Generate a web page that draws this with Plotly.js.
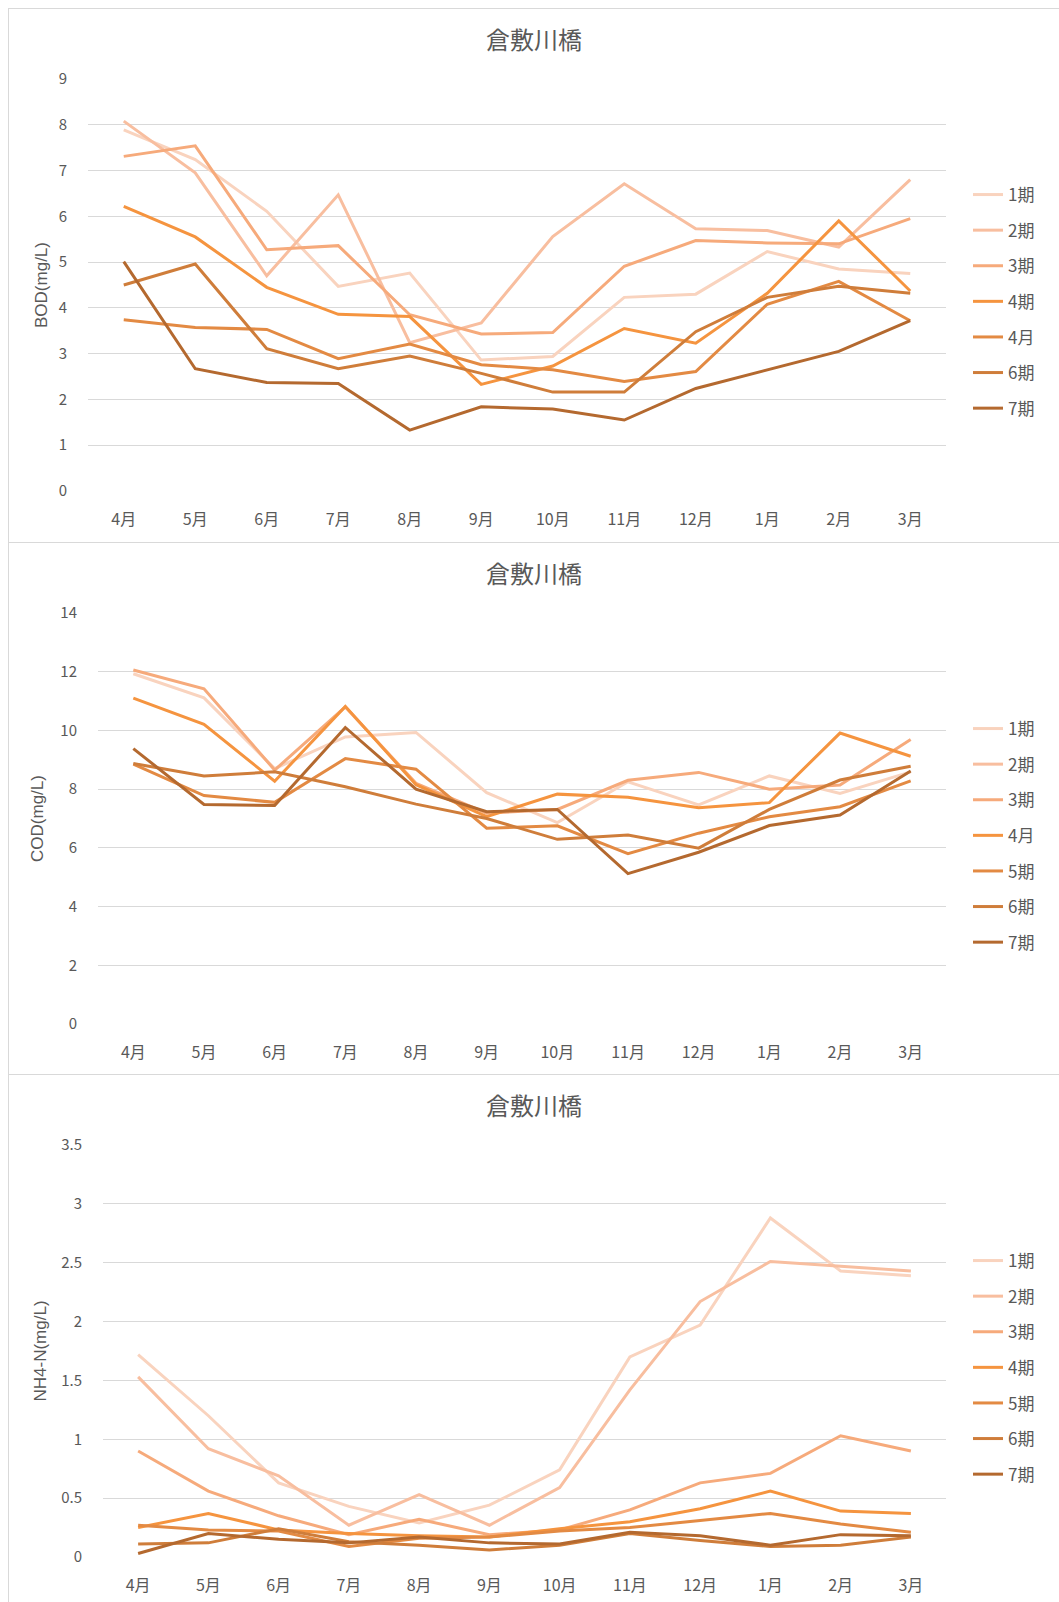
<!DOCTYPE html>
<html><head><meta charset="utf-8">
<script src="https://cdn.plot.ly/plotly-3.0.1.min.js"></script>
<style>
body{margin:0;background:#fff;width:1059px;height:1602px;position:relative;overflow:hidden}
.frame{position:absolute;left:8px;width:1051px;border-top:1px solid #d9d9d9;border-left:1px solid #d9d9d9;box-sizing:border-box}
.plot{position:absolute;left:9px;width:1050px}
</style></head><body>
<div class="frame" style="top:8px;height:534px"></div>
<div class="frame" style="top:542px;height:532px"></div>
<div class="frame" style="top:1074px;height:528px"></div>
<div id="c1" class="plot" style="top:9px;height:533px"></div>
<div id="c2" class="plot" style="top:543px;height:531px"></div>
<div id="c3" class="plot" style="top:1075px;height:527px"></div>
<script>
// ---- data ----
const months = ['4月','5月','6月','7月','8月','9月','10月','11月','12月','1月','2月','3月'];
const chartTitle = '倉敷川橋';
const seriesColors = ['#F9D3BE','#F8BE9F','#F6AA7B','#F5943F','#E38A43','#CF7D3A','#B4692F'];

// BOD
const bodNames = ['1期','2期','3期','4期','4月','6期','7期'];
const bod1 = [7.89,7.24,6.11,4.47,4.76,2.86,2.94,4.23,4.30,5.23,4.85,4.75];
const bod2 = [8.08,6.95,4.70,6.47,3.24,3.67,5.56,6.71,5.73,5.69,5.33,6.80];
const bod3 = [7.31,7.54,5.27,5.36,3.85,3.43,3.46,4.91,5.47,5.42,5.40,5.95];
const bod4 = [6.22,5.55,4.45,3.86,3.81,2.33,2.73,3.55,3.23,4.32,5.90,4.37];
const bod5 = [3.74,3.57,3.53,2.89,3.21,2.76,2.65,2.39,2.61,4.08,4.58,3.72];
const bod6 = [4.50,4.96,3.11,2.67,2.95,2.57,2.16,2.16,3.48,4.23,4.47,4.32];
const bod7 = [5.01,2.67,2.37,2.35,1.33,1.84,1.79,1.55,2.24,2.65,3.05,3.72];

// COD
const codNames = ['1期','2期','3期','4月','5期','6期','7期'];
const cod1 = [11.93,11.11,8.70,9.78,9.93,7.88,6.86,8.25,7.46,8.45,7.85,8.59];
const cod2 = [null,null,null,null,null,null,null,null,null,null,null,null];
const cod3 = [12.06,11.42,8.65,10.80,8.20,7.18,7.31,8.30,8.57,8.00,8.14,9.69];
const cod4 = [11.10,10.21,8.27,10.82,8.15,7.06,7.83,7.72,7.37,7.54,9.91,9.12];
const cod5 = [8.85,7.78,7.55,9.04,8.68,6.67,6.75,5.80,6.50,7.06,7.40,8.28];
const cod6 = [8.87,8.45,8.59,8.08,7.49,7.00,6.29,6.44,5.99,7.31,8.31,8.78];
const cod7 = [9.38,7.48,7.44,10.10,8.00,7.23,7.31,5.12,5.85,6.76,7.12,8.62];

// NH4-N
const nh4Names = ['1期','2期','3期','4期','5期','6期','7期'];
const nh1 = [1.72,1.20,0.63,0.43,0.29,0.44,0.74,1.70,1.97,2.88,2.43,2.39];
const nh2 = [1.53,0.92,0.69,0.27,0.53,0.27,0.59,1.42,2.17,2.51,2.47,2.43];
const nh3 = [0.90,0.56,0.35,0.19,0.32,0.19,0.23,0.40,0.63,0.71,1.03,0.90];
const nh4 = [0.25,0.37,0.23,0.20,0.18,0.17,0.24,0.30,0.41,0.56,0.39,0.37];
const nh5 = [0.27,0.23,0.22,0.09,0.16,0.17,0.22,0.25,0.31,0.37,0.28,0.21];
const nh6 = [0.11,0.12,0.24,0.13,0.10,0.06,0.10,0.20,0.14,0.09,0.10,0.17];
const nh7 = [0.03,0.20,0.15,0.12,0.17,0.12,0.11,0.21,0.18,0.10,0.19,0.18];

// ---- drawing ----
const txt = '#595959';
const cjk = '"Noto Sans CJK JP", "Noto Sans", sans-serif';

function traces(names, data){
  return names.map((n,i)=>({
    type:'scatter', mode:'lines', name:n, x:months, y:data[i],
    legendgroup:'g'+i,
    line:{color:seriesColors[i], width:3, shape:'linear'},
    connectgaps:false, hoverinfo:'x+y+name'
  }));
}

function layout(o){
  return {
    width:1050, height:o.h,
    margin:{l:o.l, r:113, t:o.t, b:o.b, pad:0},
    paper_bgcolor:'#ffffff', plot_bgcolor:'#ffffff',
    font:{family:cjk, color:txt, size:15},
    title:{text:chartTitle, x:525/1050, xref:'container', xanchor:'center',
           y:1-32/o.h, yref:'container', yanchor:'middle',
           font:{family:cjk, size:24, color:txt}},
    showlegend:true,
    legend:{xref:'container', yref:'container', x:959/1050, y:1-168/o.h,
            xanchor:'left', yanchor:'top', traceorder:'grouped', tracegroupgap:10.5,
            font:{family:cjk, size:17, color:txt}, bgcolor:'rgba(0,0,0,0)', borderwidth:0},
    xaxis:{type:'category', range:[-0.5,11.5], showgrid:false, zeroline:false, showline:false,
           ticks:'outside', ticklen:14, tickcolor:'rgba(0,0,0,0)',
           tickfont:{family:cjk, size:16, color:txt}, fixedrange:true},
    yaxis:{range:o.range, dtick:o.dtick, tick0:0, showgrid:true, gridcolor:'#d9d9d9', gridwidth:1,
           zeroline:false, showline:false, ticks:'outside', ticklen:17, tickcolor:'rgba(0,0,0,0)',
           tickfont:{family:cjk, size:15, color:txt},
           title:{text:o.ytitle, standoff:o.standoff, font:{family:'"Liberation Sans", Arial, sans-serif', size:17, color:txt}},
           fixedrange:true}
  };
}

const cfg = {displayModeBar:false};

Plotly.newPlot('c1', traces(bodNames,[bod1,bod2,bod3,bod4,bod5,bod6,bod7]),
  layout({h:533, l:79, t:70, b:51, range:[0,9], dtick:1, ytitle:'BOD(mg/L)', standoff:6}), cfg);
Plotly.newPlot('c2', traces(codNames,[cod1,cod2,cod3,cod4,cod5,cod6,cod7]),
  layout({h:531, l:89, t:70, b:50, range:[0,14], dtick:2, ytitle:'COD(mg/L)', standoff:12}), cfg);
Plotly.newPlot('c3', traces(nh4Names,[nh1,nh2,nh3,nh4,nh5,nh6,nh7]),
  layout({h:527, l:94, t:70, b:45, range:[0,3.5], dtick:0.5, ytitle:'NH4-N(mg/L)', standoff:10}), cfg);
</script>
</body></html>
